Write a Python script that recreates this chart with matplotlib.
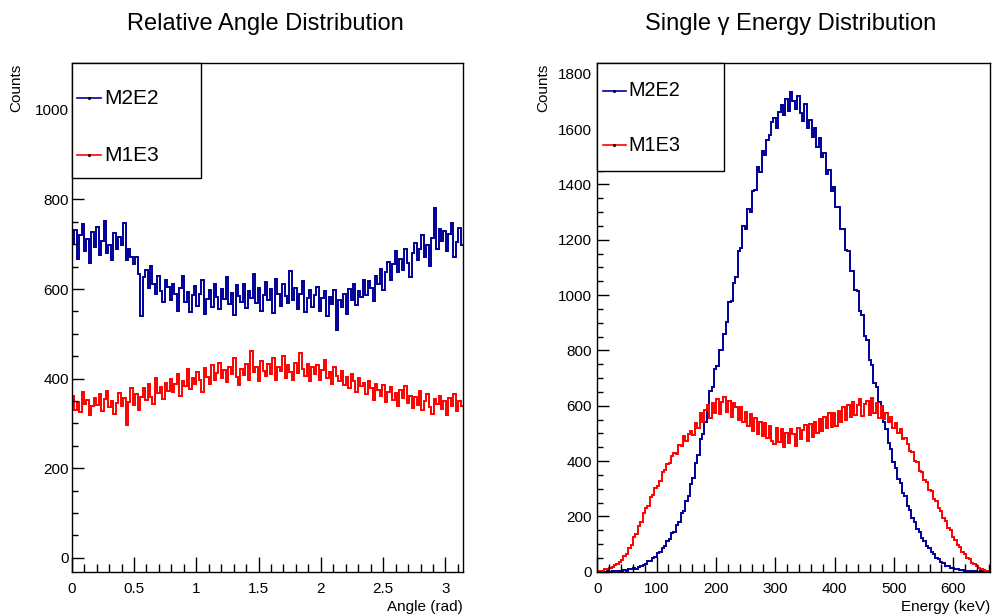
"""Distribucion angular relativa y energia de un gamma (M2E2 vs M1E3), estilo ROOT."""
import matplotlib
matplotlib.use("Agg")
import matplotlib.pyplot as plt
from matplotlib.patches import Rectangle
from matplotlib.ticker import MultipleLocator
import numpy as np

plt.rcParams["font.family"] = ["Liberation Sans", "DejaVu Sans"]

series_labels = ["M2E2", "M1E3"]
series_colors = ["#000099", "#ff0000"]

# Histograma angular: 160 bins entre 0 y pi
angle_range = (0.0, np.pi)
angle_m2e2 = [
    702, 731, 668, 720, 745, 684, 711, 659, 728, 694,
    738, 676, 707, 752, 681, 699, 664, 725, 690, 716,
    698, 748, 664, 690, 672, 655, 671, 634, 540, 628,
    642, 603, 651, 612, 588, 630, 596, 571, 621, 604,
    575, 612, 588, 551, 603, 629, 570, 594, 548, 586,
    607, 563, 590, 621, 544, 578, 598, 559, 612, 583,
    556, 601, 577, 627, 566, 592, 543, 609, 584, 571,
    612, 558, 595, 580, 634, 569, 603, 551, 587, 615,
    576, 599, 547, 622, 590, 563, 611, 584, 568, 640,
    575, 602, 556, 590, 617, 549, 581, 598, 561, 587,
    604, 552, 579, 596, 540, 583, 566, 598, 509, 575,
    560, 589, 545, 601, 576, 612, 565, 596, 583, 621,
    586, 618, 603, 574, 630, 612, 645, 598, 637, 660,
    621, 655, 684, 639, 667, 642, 690, 658, 628, 681,
    702, 664, 689, 721, 672, 698, 652, 714, 781, 690,
    735, 708, 730, 686, 724, 748, 671, 705, 736, 699,
]
angle_m1e3 = [
    362, 331, 348, 325, 370, 344, 352, 318, 339, 357,
    341, 366, 328, 354, 372, 336, 349, 321, 345, 367,
    338, 356, 296, 347, 380, 342, 366, 331, 359, 378,
    352, 389, 360, 344, 401, 368, 382, 355, 391, 373,
    399, 370, 388, 410, 361, 395, 384, 421, 377, 402,
    388, 415, 396, 371, 423, 403, 389, 430, 398, 412,
    436, 401, 419, 392, 427, 411, 445, 404, 386, 421,
    409, 432, 398, 461, 415, 427, 395, 440, 418, 405,
    432, 411, 447, 398, 425, 416, 451, 402, 430, 414,
    398, 436, 412, 457, 421, 405, 433, 394, 426, 410,
    431, 398, 420, 442, 401, 415, 389, 426, 407, 395,
    418, 386, 403, 379, 411, 395, 370, 402, 384, 391,
    366, 395, 378, 352, 388, 374, 361, 385, 347, 370,
    381, 352, 369, 340, 375, 356, 383, 346, 362, 334,
    358, 341, 372, 329, 351, 366, 337, 320, 354, 343,
    361, 332, 349, 318, 357, 340, 366, 327, 350, 338,
]

# Histograma de energia: 165 bins entre 0 y 662 keV
energy_range = (0.0, 662.0)
energy_m2e2 = [
    0, 0, 0, 0, 1, 0, 1, 2, 1, 3,
    4, 5, 4, 8, 9, 12, 11, 17, 19, 24,
    28, 37, 38, 49, 52, 66, 70, 84, 92, 110,
    117, 139, 145, 170, 181, 212, 219, 257, 272, 318,
    339, 392, 421, 478, 497, 541, 589, 652, 668, 731,
    742, 802, 800, 861, 902, 975, 978, 1045, 1066, 1158,
    1170, 1249, 1238, 1310, 1302, 1378, 1381, 1462, 1446, 1521,
    1505, 1561, 1580, 1627, 1642, 1603, 1662, 1688, 1651, 1710,
    1664, 1735, 1702, 1672, 1718, 1657, 1631, 1690, 1605, 1633,
    1571, 1605, 1537, 1569, 1499, 1512, 1437, 1451, 1376, 1392,
    1318, 1320, 1238, 1240, 1162, 1160, 1088, 1087, 1019, 1013,
    942, 928, 851, 838, 765, 748, 681, 668, 612, 600,
    542, 517, 466, 445, 396, 375, 335, 322, 284, 272,
    239, 224, 195, 180, 155, 144, 121, 112, 93, 86,
    70, 63, 49, 45, 34, 31, 22, 20, 14, 13,
    9, 8, 5, 5, 3, 3, 1, 2, 1, 0,
    0, 1, 0, 0, 0,
]
energy_m1e3 = [
    1, 2, 4, 8, 10, 15, 18, 23, 27, 34,
    41, 58, 64, 86, 97, 124, 136, 167, 181, 211,
    231, 239, 270, 276, 304, 311, 329, 360, 366, 391,
    392, 418, 430, 426, 458, 455, 489, 474, 497, 510,
    496, 538, 519, 572, 541, 583, 604, 556, 611, 572,
    625, 569, 612, 633, 579, 618, 561, 610, 597, 548,
    596, 541, 579, 528, 569, 508, 555, 497, 541, 489,
    538, 482, 527, 474, 461, 519, 470, 515, 452, 503,
    466, 516, 497, 455, 521, 478, 512, 529, 474, 533,
    487, 540, 502, 552, 507, 561, 518, 572, 524, 575,
    528, 581, 541, 594, 549, 603, 561, 612, 567, 604,
    623, 562, 607, 616, 568, 629, 575, 610, 556, 598,
    551, 574, 543, 559, 521, 536, 503, 515, 479, 483,
    462, 437, 431, 399, 397, 365, 361, 331, 325, 297,
    290, 264, 257, 229, 221, 193, 184, 159, 150, 126,
    115, 96, 88, 71, 63, 50, 45, 32, 27, 19,
    14, 10, 6, 4, 1,
]


def style_axes(ax):
    ax.tick_params(which="both", direction="in", top=False, right=False,
                   labelsize=11, width=1.0)
    ax.tick_params(axis="x", which="major", length=10.8, pad=7.5)
    ax.tick_params(axis="x", which="minor", length=5.5)
    ax.tick_params(axis="y", which="major", length=8.4)
    ax.tick_params(axis="y", which="minor", length=4.3)
    for sp in ax.spines.values():
        sp.set_linewidth(1.0)


def draw_legend(ax, box_w, box_h, rows_y, line_x, text_x, fontsize):
    ax.add_patch(Rectangle((0, 1 - box_h), box_w, box_h, transform=ax.transAxes,
                           facecolor="white", edgecolor="black", lw=1.0,
                           zorder=5, clip_on=False))
    for label, color, y in zip(series_labels, series_colors, rows_y):
        ax.plot(line_x, [y, y], transform=ax.transAxes, color=color, lw=1.2,
                zorder=6, clip_on=False)
        ax.plot([sum(line_x) / 2], [y], transform=ax.transAxes, marker="o",
                ms=1.2, color="black", zorder=7, clip_on=False)
        ax.text(text_x, y, label, transform=ax.transAxes, fontsize=fontsize,
                ha="left", va="center", zorder=7)


def main() -> None:
    fig = plt.figure(figsize=(9.92, 6.15), dpi=100)
    ax_l = fig.add_axes([0.0723, 0.0704, 0.3945, 0.8267])
    ax_r = fig.add_axes([0.6021, 0.0704, 0.3959, 0.8267])

    # Panel izquierdo: angulo relativo
    edges = np.linspace(*angle_range, len(angle_m2e2) + 1)
    for vals, color in zip([angle_m2e2, angle_m1e3], series_colors):
        ax_l.stairs(vals, edges, color=color, lw=1.4, baseline=None)
    ax_l.set_xlim(*angle_range)
    ax_l.set_ylim(-31, 1104)
    ax_l.xaxis.set_minor_locator(MultipleLocator(0.1))
    ax_l.yaxis.set_minor_locator(MultipleLocator(50))
    ax_l.set_xticks([0, 0.5, 1, 1.5, 2, 2.5, 3], ["0", "0.5", "1", "1.5", "2", "2.5", "3"])
    ax_l.set_yticks([0, 200, 400, 600, 800, 1000])
    style_axes(ax_l)
    ax_l.tick_params(axis="y", pad=2)
    ax_l.text(0.494, 1.0663, "Relative Angle Distribution", transform=ax_l.transAxes,
              fontsize=17, ha="center", va="baseline")
    ax_l.text(-0.142, 1.0, "Counts", transform=ax_l.transAxes, rotation=90,
              fontsize=11, ha="center", va="top")
    ax_l.text(1.0, -0.0556, "Angle (rad)", transform=ax_l.transAxes,
              fontsize=11, ha="right", va="top")
    draw_legend(ax_l, 0.33, 0.2255, [0.931, 0.819], [0.0135, 0.075], 0.083, 15)

    # Panel derecho: energia de un gamma
    edges = np.linspace(*energy_range, len(energy_m2e2) + 1)
    for vals, color in zip([energy_m2e2, energy_m1e3], series_colors):
        ax_r.stairs(vals, edges, color=color, lw=1.4, baseline=None)
    ax_r.set_xlim(*energy_range)
    ax_r.set_ylim(0, 1838)
    ax_r.xaxis.set_major_locator(MultipleLocator(100))
    ax_r.xaxis.set_minor_locator(MultipleLocator(20))
    ax_r.yaxis.set_major_locator(MultipleLocator(200))
    ax_r.yaxis.set_minor_locator(MultipleLocator(50))
    style_axes(ax_r)
    ax_r.tick_params(axis="y", pad=4)
    ax_r.text(0.493, 1.0663, "Single \u03b3 Energy Distribution", transform=ax_r.transAxes,
              fontsize=17, ha="center", va="baseline")
    ax_r.text(-0.138, 1.0, "Counts", transform=ax_r.transAxes, rotation=90,
              fontsize=11, ha="center", va="top")
    ax_r.text(1.0, -0.0556, "Energy (keV)", transform=ax_r.transAxes,
              fontsize=11, ha="right", va="top")
    draw_legend(ax_r, 0.3226, 0.212, [0.9455, 0.839], [0.0145, 0.073], 0.079, 14.3)

    fig.savefig("out.png", dpi=100)


if __name__ == "__main__":
    main()
